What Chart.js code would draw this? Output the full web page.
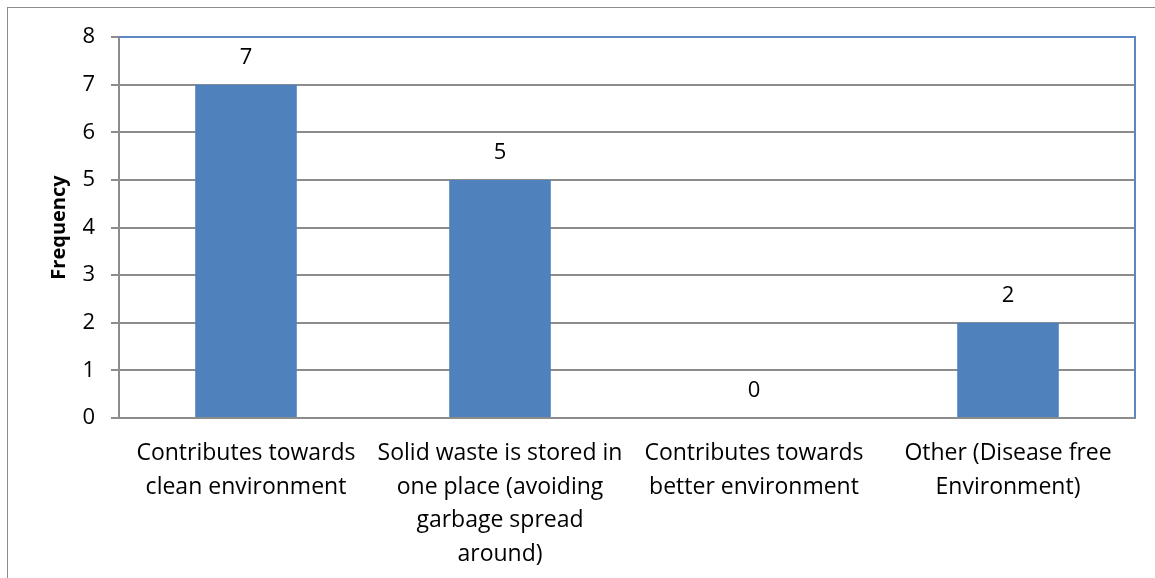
<!DOCTYPE html>
<html>
<head>
<meta charset="utf-8">
<script src="https://cdn.jsdelivr.net/npm/chart.js@4/dist/chart.umd.min.js"></script>
<style>
html,body{margin:0;padding:0;background:#fff;}
#wrap{position:relative;width:1155px;height:578px;overflow:hidden;}
#frame{position:absolute;left:7px;top:7px;width:1200px;height:700px;border:1px solid #8c8c8c;box-sizing:border-box;}
canvas{position:absolute;left:0;top:0;}
</style>
</head>
<body>
<div id="wrap">
<div id="frame"></div>
<canvas id="c" width="1155" height="578"></canvas>
</div>
<script>
const categories = [
  ["Contributes towards", "clean environment"],
  ["Solid waste is stored in", "one place (avoiding", "garbage spread", "around)"],
  ["Contributes towards", "better environment"],
  ["Other (Disease free", "Environment)"]
];
const frequency = [7, 5, 0, 2];
const yTicks = [0, 1, 2, 3, 4, 5, 6, 7, 8];
const yTitle = "Frequency";

const FONT = "'Open Sans', 'Liberation Sans', Arial, sans-serif";

const plotExtras = {
  id: 'plotExtras',
  afterDatasetsDraw(chart) {
    const ctx = chart.ctx;
    const a = chart.chartArea;
    ctx.save();
    // top and right plot border (blue)
    ctx.strokeStyle = '#5b87c4';
    ctx.lineWidth = 2;
    ctx.beginPath();
    ctx.moveTo(a.left, a.top);
    ctx.lineTo(a.right, a.top);
    ctx.lineTo(a.right, a.bottom);
    ctx.stroke();
    // data labels
    const meta = chart.getDatasetMeta(0);
    ctx.fillStyle = '#000';
    ctx.font = '22px ' + FONT;
    ctx.textAlign = 'center';
    ctx.textBaseline = 'middle';
    meta.data.forEach((bar, i) => {
      ctx.fillText(String(frequency[i]), bar.x, bar.y - 27);
    });
    ctx.restore();
  }
};

new Chart(document.getElementById('c'), {
  type: 'bar',
  data: {
    labels: categories,
    datasets: [{
      data: frequency,
      backgroundColor: '#4f81bd',
      borderWidth: 0,
      categoryPercentage: 0.4,
      barPercentage: 1.0
    }]
  },
  options: {
    responsive: false,
    animation: false,
    devicePixelRatio: 1,
    layout: { padding: { left: 0, right: 20, top: 37, bottom: 0 } },
    plugins: { legend: { display: false }, tooltip: { enabled: false } },
    scales: {
      x: {
        grid: { display: false, drawTicks: false },
        border: { display: true, color: '#8c8c8c', width: 2 },
        ticks: {
          color: '#000',
          font: { family: FONT, size: 23, lineHeight: 1.46 },
          padding: 19,
          maxRotation: 0,
          autoSkip: false
        },
        afterFit(s) { s.height = 160; }
      },
      y: {
        min: 0, max: 8,
        afterBuildTicks(s) { s.ticks = yTicks.map(v => ({ value: v })); },
        grid: { color: '#8c8c8c', lineWidth: 2, tickLength: 8, drawTicks: true },
        border: { display: true, color: '#8c8c8c', width: 2 },
        ticks: {
          color: '#000',
          font: { family: FONT, size: 22 },
          padding: 16
        },
        title: {
          display: true,
          text: yTitle,
          color: '#000',
          font: { family: FONT, size: 20, weight: 'bold' },
          padding: { top: 47, bottom: 0 }
        },
        afterFit(s) { s.width = 119; }
      }
    }
  },
  plugins: [plotExtras]
});
</script>
</body>
</html>
